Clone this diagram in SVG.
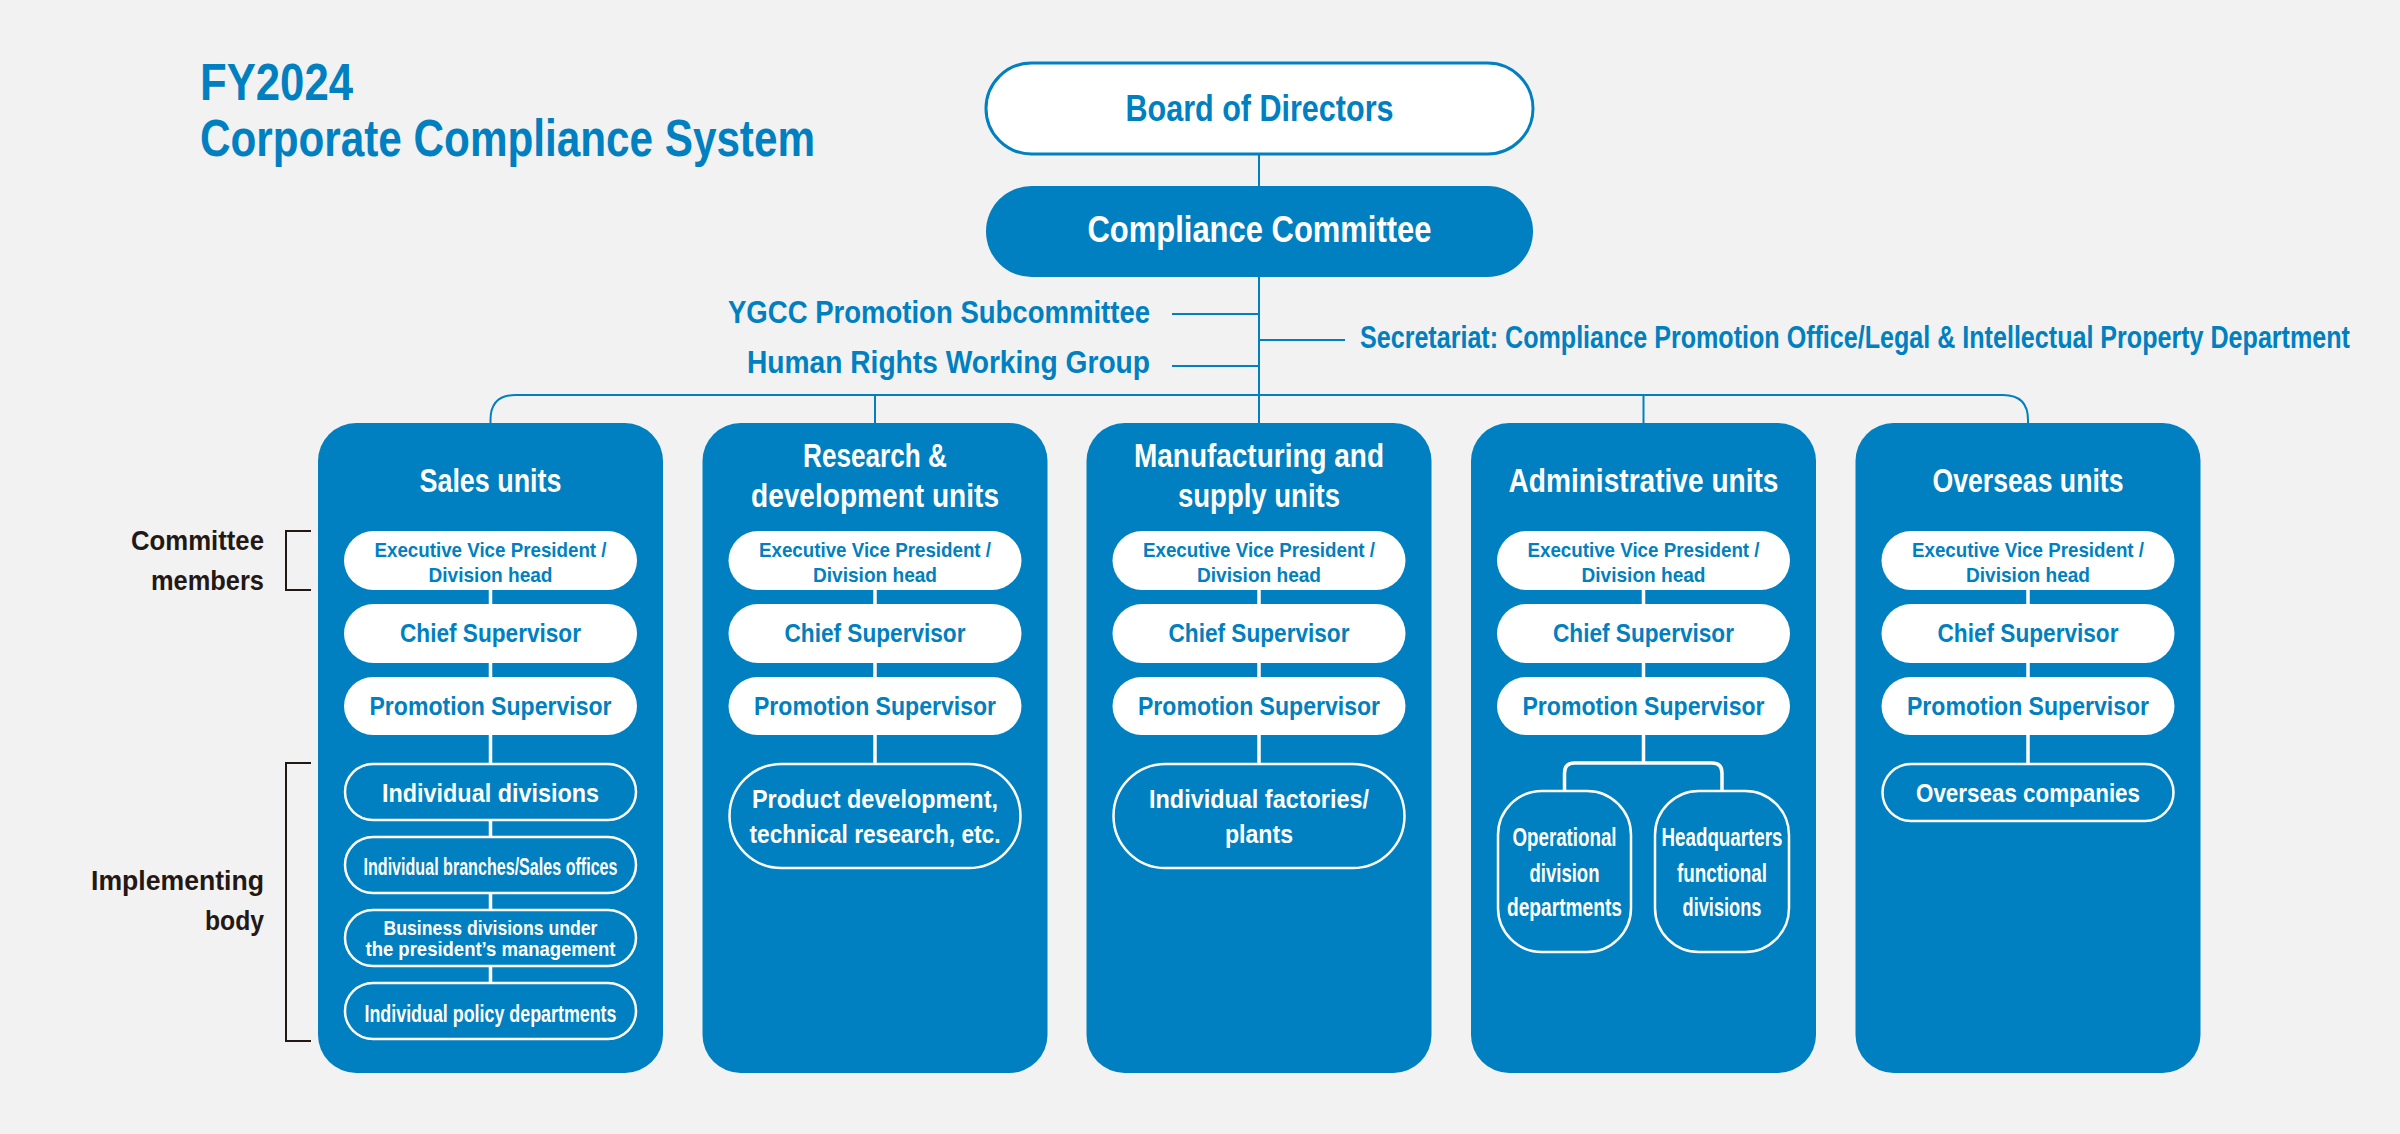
<svg xmlns="http://www.w3.org/2000/svg" width="2400" height="1134" viewBox="0 0 2400 1134">
<style>
.t{font-family:"Liberation Sans",Arial,sans-serif;font-weight:bold}
.blue{fill:#0080c0}
.white{fill:#ffffff}
.dark{fill:#231815}
.mid{text-anchor:middle}
.end{text-anchor:end}
.conn{stroke:#0080c0;stroke-width:2;fill:none}
.wconn{stroke:#ffffff;stroke-width:3.5;fill:none}
.box{fill:#0080c0}
.pill{fill:#ffffff}
.opill{fill:none;stroke:#ffffff;stroke-width:2.5}
.brk{stroke:#231815;stroke-width:2;fill:none}
.s21{font-size:21px}.s23{font-size:23px}.s24{font-size:24px}.s25{font-size:25px}.s26{font-size:26px}
.s28{font-size:28px}.s31{font-size:31px}.s32{font-size:32px}.s33{font-size:33px}.s37{font-size:37px}.s52{font-size:52px}
</style>
<rect width="2400" height="1134" fill="#f2f2f2"/>

<g id="title">
<text class="t blue s52" x="200" y="100" textLength="153" lengthAdjust="spacingAndGlyphs">FY2024</text>
<text class="t blue s52" x="200" y="156" textLength="615" lengthAdjust="spacingAndGlyphs">Corporate Compliance System</text>
</g>

<g id="connectors">
<path class="conn" d="M1259,154 V186"/>
<path class="conn" d="M1259,277 V423"/>
<path class="conn" d="M1172,314 H1259"/>
<path class="conn" d="M1172,366 H1259"/>
<path class="conn" d="M1259,340 H1345"/>
<path class="conn" d="M490.5,423 V420 Q490.5,395 515.5,395 H2003 Q2028,395 2028,420 V423"/>
<path class="conn" d="M875,395 V423"/>
<path class="conn" d="M1643.5,395 V423"/>
</g>

<g id="board">
<rect x="986" y="63" width="547" height="91" rx="45.5" fill="#ffffff" stroke="#0080c0" stroke-width="3"/>
<text class="t blue s37 mid" x="1259.5" y="121" textLength="268" lengthAdjust="spacingAndGlyphs">Board of Directors</text>
</g>

<g id="committee">
<rect x="986" y="186" width="547" height="91" rx="45.5" fill="#0080c0"/>
<text class="t white s37 mid" x="1259.5" y="242" textLength="344" lengthAdjust="spacingAndGlyphs">Compliance Committee</text>
</g>

<g id="ygcc">
<text class="t blue s32 end" x="1150" y="323" textLength="422" lengthAdjust="spacingAndGlyphs">YGCC Promotion Subcommittee</text>
</g>
<g id="human-rights">
<text class="t blue s32 end" x="1150" y="373" textLength="403" lengthAdjust="spacingAndGlyphs">Human Rights Working Group</text>
</g>
<g id="secretariat">
<text class="t blue s31" transform="translate(1360,348) scale(0.81,1)" x="0" y="0">Secretariat: Compliance Promotion Office/Legal &amp; Intellectual Property Department</text>
</g>

<g id="labels">
<text class="t dark s28 end" x="264" y="550" textLength="133" lengthAdjust="spacingAndGlyphs">Committee</text>
<text class="t dark s28 end" x="264" y="590" textLength="113" lengthAdjust="spacingAndGlyphs">members</text>
<path class="brk" d="M311,531 H286 V590 H311"/>
<text class="t dark s28 end" x="264" y="890" textLength="173" lengthAdjust="spacingAndGlyphs">Implementing</text>
<text class="t dark s28 end" x="264" y="930" textLength="59" lengthAdjust="spacingAndGlyphs">body</text>
<path class="brk" d="M311,763 H286 V1041 H311"/>
</g>

<!-- Sales units -->
<g id="sales">
<rect class="box" x="318" y="423" width="345" height="650" rx="38"/>
<text class="t white s33 mid" x="490.5" y="492" textLength="142" lengthAdjust="spacingAndGlyphs">Sales units</text>
<path class="wconn" d="M490.5,590 V604 M490.5,663 V677 M490.5,735 V763 M490.5,821 V836 M490.5,894 V909 M490.5,967 V982"/>
<rect class="pill" x="344" y="531" width="293" height="59" rx="29.5"/>
<text class="t blue s21 mid" x="490.5" y="557" textLength="232" lengthAdjust="spacingAndGlyphs">Executive Vice President /</text>
<text class="t blue s21 mid" x="490.5" y="582" textLength="124" lengthAdjust="spacingAndGlyphs">Division head</text>
<rect class="pill" x="344" y="604" width="293" height="59" rx="29.5"/>
<text class="t blue s26 mid" x="490.5" y="642" textLength="181" lengthAdjust="spacingAndGlyphs">Chief Supervisor</text>
<rect class="pill" x="344" y="677" width="293" height="58" rx="29"/>
<text class="t blue s26 mid" x="490.5" y="715" textLength="242" lengthAdjust="spacingAndGlyphs">Promotion Supervisor</text>
<rect class="opill" x="345" y="764" width="291" height="56" rx="28"/>
<text class="t white s26 mid" x="490.5" y="802" textLength="217" lengthAdjust="spacingAndGlyphs">Individual divisions</text>
<rect class="opill" x="345" y="837" width="291" height="56" rx="28"/>
<text class="t white s23 mid" x="490.5" y="875" textLength="254" lengthAdjust="spacingAndGlyphs">Individual branches/Sales offices</text>
<rect class="opill" x="345" y="910" width="291" height="56" rx="28"/>
<text class="t white s21 mid" x="490.5" y="935" textLength="214" lengthAdjust="spacingAndGlyphs">Business divisions under</text>
<text class="t white s21 mid" x="490.5" y="956" textLength="250" lengthAdjust="spacingAndGlyphs">the president’s management</text>
<rect class="opill" x="345" y="983" width="291" height="56" rx="28"/>
<text class="t white s24 mid" x="490.5" y="1022" textLength="252" lengthAdjust="spacingAndGlyphs">Individual policy departments</text>
</g>

<!-- Research & development units -->
<g id="rnd">
<rect class="box" x="702.5" y="423" width="345" height="650" rx="38"/>
<text class="t white s33 mid" x="875" y="467" textLength="144" lengthAdjust="spacingAndGlyphs">Research &amp;</text>
<text class="t white s33 mid" x="875" y="507" textLength="248" lengthAdjust="spacingAndGlyphs">development units</text>
<path class="wconn" d="M875,590 V604 M875,663 V677 M875,735 V763"/>
<rect class="pill" x="728.5" y="531" width="293" height="59" rx="29.5"/>
<text class="t blue s21 mid" x="875" y="557" textLength="232" lengthAdjust="spacingAndGlyphs">Executive Vice President /</text>
<text class="t blue s21 mid" x="875" y="582" textLength="124" lengthAdjust="spacingAndGlyphs">Division head</text>
<rect class="pill" x="728.5" y="604" width="293" height="59" rx="29.5"/>
<text class="t blue s26 mid" x="875" y="642" textLength="181" lengthAdjust="spacingAndGlyphs">Chief Supervisor</text>
<rect class="pill" x="728.5" y="677" width="293" height="58" rx="29"/>
<text class="t blue s26 mid" x="875" y="715" textLength="242" lengthAdjust="spacingAndGlyphs">Promotion Supervisor</text>
<rect class="opill" x="729.5" y="764" width="291" height="104" rx="52"/>
<text class="t white s26 mid" x="875" y="808" textLength="246" lengthAdjust="spacingAndGlyphs">Product development,</text>
<text class="t white s26 mid" x="875" y="843" textLength="251" lengthAdjust="spacingAndGlyphs">technical research, etc.</text>
</g>

<!-- Manufacturing and supply units -->
<g id="manufacturing">
<rect class="box" x="1086.5" y="423" width="345" height="650" rx="38"/>
<text class="t white s33 mid" x="1259" y="467" textLength="250" lengthAdjust="spacingAndGlyphs">Manufacturing and</text>
<text class="t white s33 mid" x="1259" y="507" textLength="162" lengthAdjust="spacingAndGlyphs">supply units</text>
<path class="wconn" d="M1259,590 V604 M1259,663 V677 M1259,735 V763"/>
<rect class="pill" x="1112.5" y="531" width="293" height="59" rx="29.5"/>
<text class="t blue s21 mid" x="1259" y="557" textLength="232" lengthAdjust="spacingAndGlyphs">Executive Vice President /</text>
<text class="t blue s21 mid" x="1259" y="582" textLength="124" lengthAdjust="spacingAndGlyphs">Division head</text>
<rect class="pill" x="1112.5" y="604" width="293" height="59" rx="29.5"/>
<text class="t blue s26 mid" x="1259" y="642" textLength="181" lengthAdjust="spacingAndGlyphs">Chief Supervisor</text>
<rect class="pill" x="1112.5" y="677" width="293" height="58" rx="29"/>
<text class="t blue s26 mid" x="1259" y="715" textLength="242" lengthAdjust="spacingAndGlyphs">Promotion Supervisor</text>
<rect class="opill" x="1113.5" y="764" width="291" height="104" rx="52"/>
<text class="t white s26 mid" x="1259" y="808" textLength="220" lengthAdjust="spacingAndGlyphs">Individual factories/</text>
<text class="t white s26 mid" x="1259" y="843" textLength="68" lengthAdjust="spacingAndGlyphs">plants</text>
</g>

<!-- Administrative units -->
<g id="administrative">
<rect class="box" x="1471" y="423" width="345" height="650" rx="38"/>
<text class="t white s33 mid" x="1643.5" y="492" textLength="270" lengthAdjust="spacingAndGlyphs">Administrative units</text>
<path class="wconn" d="M1643.5,590 V604 M1643.5,663 V677 M1643.5,735 V763"/>
<path class="wconn" d="M1564.5,790 V773 Q1564.5,763 1574.5,763 H1712 Q1722,763 1722,773 V790"/>
<rect class="pill" x="1497" y="531" width="293" height="59" rx="29.5"/>
<text class="t blue s21 mid" x="1643.5" y="557" textLength="232" lengthAdjust="spacingAndGlyphs">Executive Vice President /</text>
<text class="t blue s21 mid" x="1643.5" y="582" textLength="124" lengthAdjust="spacingAndGlyphs">Division head</text>
<rect class="pill" x="1497" y="604" width="293" height="59" rx="29.5"/>
<text class="t blue s26 mid" x="1643.5" y="642" textLength="181" lengthAdjust="spacingAndGlyphs">Chief Supervisor</text>
<rect class="pill" x="1497" y="677" width="293" height="58" rx="29"/>
<text class="t blue s26 mid" x="1643.5" y="715" textLength="242" lengthAdjust="spacingAndGlyphs">Promotion Supervisor</text>
<rect class="opill" x="1498" y="791" width="133" height="161" rx="44"/>
<text class="t white s25 mid" x="1564.5" y="846" textLength="104" lengthAdjust="spacingAndGlyphs">Operational</text>
<text class="t white s25 mid" x="1564.5" y="882" textLength="70" lengthAdjust="spacingAndGlyphs">division</text>
<text class="t white s25 mid" x="1564.5" y="916" textLength="115" lengthAdjust="spacingAndGlyphs">departments</text>
<rect class="opill" x="1655" y="791" width="134" height="161" rx="44"/>
<text class="t white s25 mid" x="1722" y="846" textLength="121" lengthAdjust="spacingAndGlyphs">Headquarters</text>
<text class="t white s25 mid" x="1722" y="882" textLength="90" lengthAdjust="spacingAndGlyphs">functional</text>
<text class="t white s25 mid" x="1722" y="916" textLength="79" lengthAdjust="spacingAndGlyphs">divisions</text>
</g>

<!-- Overseas units -->
<g id="overseas">
<rect class="box" x="1855.5" y="423" width="345" height="650" rx="38"/>
<text class="t white s33 mid" x="2028" y="492" textLength="191" lengthAdjust="spacingAndGlyphs">Overseas units</text>
<path class="wconn" d="M2028,590 V604 M2028,663 V677 M2028,735 V763"/>
<rect class="pill" x="1881.5" y="531" width="293" height="59" rx="29.5"/>
<text class="t blue s21 mid" x="2028" y="557" textLength="232" lengthAdjust="spacingAndGlyphs">Executive Vice President /</text>
<text class="t blue s21 mid" x="2028" y="582" textLength="124" lengthAdjust="spacingAndGlyphs">Division head</text>
<rect class="pill" x="1881.5" y="604" width="293" height="59" rx="29.5"/>
<text class="t blue s26 mid" x="2028" y="642" textLength="181" lengthAdjust="spacingAndGlyphs">Chief Supervisor</text>
<rect class="pill" x="1881.5" y="677" width="293" height="58" rx="29"/>
<text class="t blue s26 mid" x="2028" y="715" textLength="242" lengthAdjust="spacingAndGlyphs">Promotion Supervisor</text>
<rect class="opill" x="1882.5" y="764" width="291" height="57" rx="28.5"/>
<text class="t white s26 mid" x="2028" y="802" textLength="224" lengthAdjust="spacingAndGlyphs">Overseas companies</text>
</g>
</svg>
